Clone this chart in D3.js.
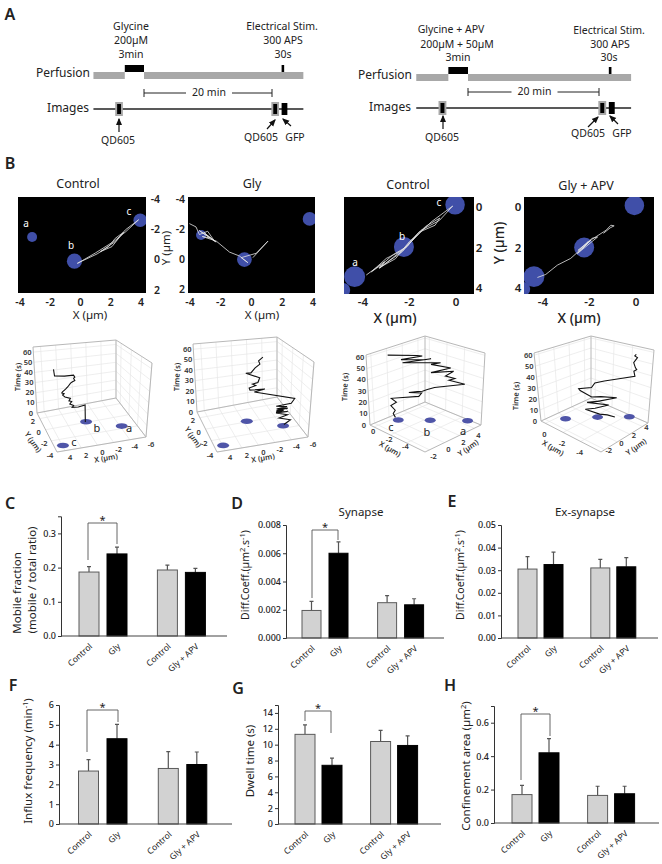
<!DOCTYPE html>
<html>
<head>
<meta charset="utf-8">
<script src="https://cdn.jsdelivr.net/npm/d3@7"></script>
<style>
body { margin:0; background:#fff; }
text { font-family:"Noto Sans", sans-serif; fill:#222; }
</style>
</head>
<body>
<div id="fig"></div>
<script>
// panel A, minutes relative to the end of the drug
const drugStart = -3, drugEnd = 0, runStart = -7.9, runEnd = 24.9
const stimTime = 21.7, qdBefore = -3.9, qdAfter = 20.5, gfpTime = 21.9, gapMinutes = 20

// panel B, image tracks in um
const img1BlobX = [-3.2,-0.4,3.95], img1BlobY = [-1.5,0.1,-2.6], img1BlobR = [0.33,0.5,0.45]
const img2BlobX = [-3.28,-0.46,3.78], img2BlobY = [-1.6,0.04,-2.67], img2BlobR = [0.33,0.48,0.45]
const img3BlobX = [-4.36,-4.85,-2.24,-0.04], img3BlobY = [3.44,4.1,1.97,-0.11], img3BlobR = [0.45,0.3,0.43,0.42]
const img4BlobX = [-4.39,-4.85,-2.23,-0.07], img4BlobY = [3.44,4.05,2,-0.08], img4BlobR = [0.45,0.3,0.43,0.42]

const img1TrackX = [-0.22,1.1,1.86,2.3,2.85,2.3,1.32,2.08,2.96,3.84,3.0,2.2,1.0,-0.2]
const img1TrackY = [0.24,-0.38,-0.86,-1.41,-1.81,-1.19,-0.53,-0.86,-1.96,-2.63,-1.85,-1.2,-0.45,0.25]
const img2TrackX = [-4.04,-3.61,-3.39,-2.85,-2.41,-3.07,-2.3,-3.4,-2.7,-3.2,-2.3,-1.43,-0.78,-0.24,-0.67,0.3,1.07,0.09]
const img2TrackY = [-2.36,-2.14,-1.63,-1.85,-1.19,-1.74,-1.13,-1.9,-1.4,-1.5,-1.2,-0.46,-0.2,0.24,-0.09,-0.38,-1.19,-0.09]
const img3TrackX = [-3.86,-3.07,-3.29,-2.5,-1.93,-1.07,-0.14,-0.71,-1.5,-2.29,-3,-3.64,-3.2,-2.7,-2.1,-1.6,-0.9,-0.7,-1.3,-2,-2.6,-3.3,-2.3,-1.7]
const img3TrackY = [3.36,2.7,3.03,2.3,1.72,0.74,-0.05,0.66,1.15,2.13,2.54,3.2,2.85,2.35,1.95,1.25,0.9,0.55,0.95,1.7,2.55,3.0,2.2,1.4]
const img4TrackX = [-4.24,-3.88,-3.38,-2.81,-1.94,-2.52,-1.65,-1.9,-2.3,-2.05,-2.5,-1.9,-1.29,-1.08,-0.94,-1.11,-1.4]
const img4TrackY = [3.48,3.33,2.87,2.54,1.64,2.3,1.48,1.55,2.05,1.7,2.15,1.6,1.15,0.9,0.93,1.03,1.3]

// panel B, 3D plots: blobs on the floor and path (position along a line, time)
const p1BlobX = [-4.2,-0.4,3.93], p1BlobY = [-1.6,0.1,-3.1]
const p2BlobX = [-4.2,-0.4,3.93], p2BlobY = [-1.6,0.1,-3.1]
const p3BlobX = [-4.85,-2.42,-0.45], p3BlobY = [4.7,2.35,0.2]
const p4BlobX = [-4.3,-2.3,-0.6], p4BlobY = [4.6,2.3,-0.35]

const p1PathS = [-0.3,-0.28,0.6,1.4,1.2,1.7,1.45,1.8,1.6,2.3,2.6,2.4,2.7,2.6,2.2,1.9,1.55,1.3,1,1.15,1,1.15,2.3,3.55,3.6,3.65]
const p1PathT = [0,16,15,15.5,17,19,21,22,24,26,28,29,30,31,33,35,38,39,40,42,43,45,45,46,49,52]
const p2PathS = [-4.3,-5.1,-3.65,-4.7,-3.25,-4.7,-3.25,-4.2,-3.3,-4.7,-3.3,-4.6,-3.25,-5.1,-5.5,-0.53,-1.8,0,0.1,-0.7,-0.3,-0.95,-1.16,0.5,-0.1,-0.6,-1.16,-1.0,-1.5]
const p2PathT = [1,4.4,7.6,9.4,12.6,12.4,13.6,14.2,14.8,15.4,16.2,17,18.7,19.5,23.6,34,35.5,36,38,39.5,41,42,46,51,51,55,58,61,64]
const p3PathS = [-0.04,-0.07,-0.04,-0.1,-0.02,-0.09,0.3,0.34,0.16,0.28,0.35,0.42,0.52,0.94,0.72,0.8,0.67,0.78,0.47,0.74,0.47,0.6,0.08,0.47,0.38,0.06,0.35,0.28,-0.12]
const p3PathT = [2.2,5.5,8.5,12.6,15.7,19,20.9,23.8,24.2,25,25.3,26.8,28.6,31.8,35,36.6,38.5,42.8,41.4,45.6,48.5,50,50.2,53.3,52.5,53,55.8,56.2,57.4]
const p4PathS = [0.77,0.65,0.53,0.31,0.46,0.67,0.34,0.5,0.79,0.55,0.41,0.24,0.22,0.41,0.46,0.6,0.84,1.05,1.03,1.07,1.05,1.02,1.07,1.03,1.05]
const p4PathT = [0.6,2.7,3.6,8.2,8.8,11.2,14.2,14.8,17.3,18.8,18.8,24.8,26.4,27,31,32.4,34,35.5,40,41.5,43,47.6,52,53.5,55]

// panels C-H
const groups = ["Control","Gly","Control","Gly + APV"]
const slots = [0,1,2.8,3.8]
const mobileVal = [0.187,0.24,0.193,0.186], mobileTop = [0.203,0.26,0.207,0.198]
const synapseVal = [0.00195,0.006,0.0025,0.00235], synapseTop = [0.0026,0.0068,0.003,0.00278]
const exsynVal = [0.0305,0.0325,0.031,0.0315], exsynTop = [0.036,0.038,0.0348,0.0356]
const influxVal = [2.67,4.3,2.8,3], influxTop = [3.25,5.02,3.65,3.63]
const dwellVal = [11.3,7.4,10.4,9.9], dwellTop = [12.5,8.3,11.8,11.1]
const confVal = [0.17,0.42,0.165,0.175], confTop = [0.225,0.505,0.22,0.22]

let svg = d3.select("#fig").append("svg").attr("width",662).attr("height",864).style("display","block")

function label(x,y,txt,size,opt)
{
    opt = opt || {}
    let t = svg.append("text")
    .attr("x",x).attr("y",y)
    .attr("dy",".35em")
    .attr("text-anchor",opt.anchor || "middle")
    .style("font-size",size+"px")
    .style("font-weight",opt.weight || 400)
    .text(txt)
    if (opt.fill) t.style("fill",opt.fill)
    if (opt.rot !== undefined) t.attr("transform","rotate("+opt.rot+","+x+","+y+")")
    return t
}

svg.append("defs").append("marker").attr("id","arrow")
.attr("viewBox","0 0 6 6").attr("refX",5).attr("refY",3)
.attr("markerWidth",6).attr("markerHeight",6).attr("orient","auto")
.append("path").attr("d","M0,0.5L6,3L0,5.5Z").attr("fill","#111")

svg.select("defs").append("filter").attr("id","soft")
.append("feGaussianBlur").attr("stdDeviation",0.7)

label(10,14,"A",16,{weight:600})
label(10,163,"B",16,{weight:600})
label(10,503,"C",16,{weight:600})
label(237,503,"D",16,{weight:600})
label(452,501,"E",16,{weight:600})
label(13,685,"F",16,{weight:600})
label(238,688,"G",16,{weight:600})
label(450,685,"H",16,{weight:600})

function schedule(o)
{
    let x = d3.scaleLinear().domain([0,gapMinutes]).range(o.range)
    let rect = (a,b,y,h,c) => svg.append("rect").attr("x",x(a)).attr("width",x(b)-x(a)).attr("y",y).attr("height",h).attr("fill",c)

    rect(runStart,drugStart,o.py+7,7,"#a8a8a8")
    rect(drugEnd,runEnd,o.py+7,7,"#a8a8a8")
    rect(drugStart,drugEnd,o.py,7,"#000")
    rect(stimTime-0.2,stimTime+0.2,o.py,7,"#000")

    svg.append("line").attr("x1",x(runStart)).attr("x2",x(runEnd)).attr("y1",o.iy).attr("y2",o.iy).attr("stroke","#222").attr("stroke-width",1.4)
    let qd = t => {
        rect(t-0.6,t+0.6,o.iy-7,14,"#a8a8a8")
        rect(t-0.3,t+0.3,o.iy-5,10,"#000")
    }
    qd(qdBefore)
    qd(qdAfter)
    rect(gfpTime-0.4,gfpTime+0.5,o.iy-6,12,"#000")

    // 20 min bracket
    let by = o.iy-16
    svg.append("path").attr("fill","none").attr("stroke","#222").attr("stroke-width",1)
    .attr("d","M"+x(0)+","+(by-4)+"v8M"+x(0)+","+by+"H"+(x(10)-22)+"M"+(x(10)+24)+","+by+"H"+x(20)+"M"+x(20)+","+(by-4)+"v8")
    label(x(10)+1,by-1,"20 min",10.5)

    o.drugLines.forEach((d,i) => label(d[0],d[1],d[2],10.5))
    o.stimLines.forEach((d,i) => label(d[0],d[1],d[2],10.5))
    label(o.labelX,o.py+8,"Perfusion",12,{anchor:"end"})
    label(o.labelX-1,o.iy-1,"Images",12,{anchor:"end"})

    o.arrows.forEach(a => svg.append("line").attr("x1",a[0]).attr("y1",a[1]).attr("x2",a[2]).attr("y2",a[3])
      .attr("stroke","#111").attr("stroke-width",1.2).attr("marker-end","url(#arrow)"))
    o.notes.forEach(d => label(d[0],d[1],d[2],10.5))
}

schedule({range:[144,272],py:65,iy:109,labelX:90,
    drugLines:[[131,26,"Glycine"],[131,40,"200µM"],[131,54,"3min"]],
    stimLines:[[282,26,"Electrical Stim."],[283,40,"300 APS"],[283,54,"30s"]],
    arrows:[[119,132,119,119],[267,129,275,120],[291,126,283,119]],
    notes:[[118,140,"QD605"],[261,137,"QD605"],[295,137,"GFP"]]})
schedule({range:[468,599],py:67,iy:108,labelX:412,
    drugLines:[[451,29,"Glycine + APV"],[457,44,"200µM + 50µM"],[458,57,"3min"]],
    stimLines:[[609,30,"Electrical Stim."],[610,44,"300 APS"],[609,57,"30s"]],
    arrows:[[443,129,443,116],[588,127,598,117],[618,124,610,116]],
    notes:[[442,137,"QD605"],[588,133,"QD605"],[622,133,"GFP"]]})

function trackImage(o)
{
    let x = d3.scaleLinear().domain(o.xd).range(o.xr)
    let y = d3.scaleLinear().domain(o.yd).range(o.yr)
    let id = "clip"+o.box[0]
    svg.select("defs").append("clipPath").attr("id",id).append("rect")
    .attr("x",o.box[0]).attr("y",o.box[1]).attr("width",o.box[2]-o.box[0]).attr("height",o.box[3]-o.box[1])
    svg.append("rect").attr("x",o.box[0]).attr("y",o.box[1]).attr("width",o.box[2]-o.box[0]).attr("height",o.box[3]-o.box[1]).attr("fill","#000")

    let g = svg.append("g").attr("clip-path","url(#"+id+")")
    g.append("g").attr("filter","url(#soft)").selectAll("circle")
    .data(o.bx).enter().append("circle")
    .attr("cx",d => x(d)).attr("cy",(d,i) => y(o.by[i]))
    .attr("r",(d,i) => (x(o.br[i])-x(0)))
    .attr("fill","#3f4fa8")

    let line = d3.line().x(d => x(d[0])).y(d => y(d[1]))
    g.append("path").attr("fill","none").attr("stroke","#e4e4e4").attr("stroke-width",0.8)
    .attr("d",line(o.tx.map((d,i) => [d,o.ty[i]])))

    let fs = o.big ? 11.5 : 10.5
    o.xt.forEach(t => label(x(t),302,t,fs,{weight:600}))
    o.yt.forEach(t => label(o.yLabelX,y(t),t,fs,{weight:600,anchor:o.yAnchor}))
    label(o.title[0],o.title[1],o.title[2],12.5)
    label(o.xl[0],o.xl[1],"X (µm)",o.big ? 14 : 11.5,{weight:o.big ? 500 : 400})
    if (o.yl) label(o.yl[0],o.yl[1],"Y (µm)",o.big ? 14 : 11.5,{rot:-90,weight:o.big ? 500 : 400})
    o.letters.forEach(d => label(d[0],d[1],d[2],10,{fill:"#fff"}))
}

trackImage({box:[18,197,146,293],xd:[-4,4],xr:[20,141],yd:[-4,2],yr:[199,290],
    bx:img1BlobX,by:img1BlobY,br:img1BlobR,tx:img1TrackX,ty:img1TrackY,
    xt:[-4,-2,0,2,4],yt:[-4,-2,0,2],yLabelX:160,yAnchor:"end",
    title:[78,184,"Control"],xl:[90,315],letters:[[26,223,"a"],[71,245,"b"],[129,211,"c"]]})
trackImage({box:[188,197,315,293],xd:[-4,4],xr:[190,313],yd:[-4,2],yr:[199,289],
    bx:img2BlobX,by:img2BlobY,br:img2BlobR,tx:img2TrackX,ty:img2TrackY,
    xt:[-4,-2,0,2,4],yt:[-4,-2,0,2],yLabelX:185,yAnchor:"end",
    title:[252,184,"Gly"],xl:[262,315],yl:[166,248],letters:[]})
trackImage({box:[344,197,474,294],xd:[-4,0],xr:[363,456],yd:[0,4],yr:[207,288],big:true,
    bx:img3BlobX,by:img3BlobY,br:img3BlobR,tx:img3TrackX,ty:img3TrackY,
    xt:[-4,-2,0],yt:[0,2,4],yLabelX:479,yAnchor:"middle",
    title:[408,185,"Control"],xl:[395,318],letters:[[355,262,"a"],[402,236,"b"],[439,202,"c"]]})
trackImage({box:[524,197,654,294],xd:[-4,0],xr:[543,636],yd:[0,4],yr:[207,288],big:true,
    bx:img4BlobX,by:img4BlobY,br:img4BlobR,tx:img4TrackX,ty:img4TrackY,
    xt:[-4,-2,0],yt:[0,2,4],yLabelX:518,yAnchor:"middle",
    title:[586,186,"Gly + APV"],xl:[579,318],yl:[499,243],letters:[]})

function plot3d(o)
{
    let a = d3.scaleLinear().domain(o.xd).range([0,1])
    let b = d3.scaleLinear().domain(o.yd).range([0,1])
    let c = d3.scaleLinear().domain([0,o.tmax]).range([0,1])
    // trilinear blend between the eight box corners
    function proj(x,y,t)
    {
        let u = a(x), v = b(y), w = c(t)
        let mix = (p,q,s) => [p[0]+(q[0]-p[0])*s, p[1]+(q[1]-p[1])*s]
        let low = mix(mix(o.k.a0b0[0],o.k.a1b0[0],u),mix(o.k.a0b1[0],o.k.a1b1[0],u),v)
        let high = mix(mix(o.k.a0b0[1],o.k.a1b0[1],u),mix(o.k.a0b1[1],o.k.a1b1[1],u),v)
        return mix(low,high,w)
    }
    let line = d3.line()
    let g = svg.append("g")
    let seg = (pts,col,w) => g.append("path").attr("fill","none").attr("stroke",col).attr("stroke-width",w).attr("d",line(pts))
    let grid = "#e6e6e6", frame = "#b8b8b8"
    let [x0,x1] = o.xd, [y0,y1] = o.yd, tm = o.tmax

    o.xt.forEach(v => { seg([proj(v,y0,0),proj(v,y1,0),proj(v,y1,tm)],grid,0.7) })
    o.yt.forEach(v => { seg([proj(o.wallX,v,tm),proj(o.wallX,v,0),proj(o.wallX === x0 ? x1 : x0,v,0)],grid,0.7) })
    o.tt.forEach(v => { seg([proj(o.wallX === x0 ? x1 : x0,y1,v),proj(o.wallX,y1,v),proj(o.wallX,y0,v)],grid,0.7) })

    let otherX = o.wallX === x0 ? x1 : x0
    seg([proj(otherX,y0,0),proj(o.wallX,y0,0),proj(o.wallX,y1,0),proj(otherX,y1,0),proj(otherX,y0,0)],frame,1)
    seg([proj(otherX,y1,0),proj(otherX,y1,tm),proj(o.wallX,y1,tm),proj(o.wallX,y0,tm),proj(o.wallX,y0,0)],frame,1)
    seg([proj(o.wallX,y1,0),proj(o.wallX,y1,tm)],frame,1)

    o.bx.forEach((d,i) => {
        let p = proj(d,o.by[i],0)
        g.append("ellipse").attr("cx",p[0]).attr("cy",p[1]).attr("rx",o.brx).attr("ry",2.8).attr("fill","#4f55a8")
    })

    let pts = o.ps.map((s,i) => proj(o.from[0]+s*(o.to[0]-o.from[0]),o.from[1]+s*(o.to[1]-o.from[1]),o.pt[i]))
    seg(pts,"#111",1.1)

    let fs = 7.5
    o.xt.forEach(v => { let p = proj(v,y0,0); label(p[0]+o.xo[0],p[1]+o.xo[1],v,fs,{weight:600,fill:"#333"}) })
    o.yt.forEach(v => { let p = proj(o.yEdge,v,0); label(p[0]+o.yo[0],p[1]+o.yo[1],v,fs,{weight:600,fill:"#333"}) })
    o.tt.forEach(v => { let p = proj(o.tEdge[0],o.tEdge[1],v); label(p[0]+o.to_[0],p[1]+o.to_[1],v,fs,{weight:600,fill:"#333"}) })
    o.titles.forEach(d => label(d[0],d[1],d[2],7.5,{weight:600,fill:"#333",rot:d[3]}))
    o.letters.forEach(d => label(d[0],d[1],d[2],11))
}

let timeTicks = [0,10,20,30,40,50,60]
plot3d({xd:[5,-6],yd:[-4,3],tmax:65,wallX:-6,yEdge:5,tEdge:[5,3],
    k:{a0b0:[[57,452],[55,368]],a1b0:[[146,437],[152,363]],a0b1:[[37,413],[33,347]],a1b1:[[116,398],[116,340]]},
    xt:[4,2,0,-2,-4,-6],yt:[2,0,-2,-4],tt:timeTicks,xo:[5,7],yo:[-7,3],to_:[-6,0],
    bx:p1BlobX,by:p1BlobY,brx:6,ps:p1PathS,pt:p1PathT,from:[0,0.1],to:[1,0.1],
    titles:[[18,377,"Time (s)",-88],[106,458,"X (µm)",-10],[33,442,"Y (µm)",55]],
    letters:[[97,428,"b"],[129,428,"a"],[74,442,"c"]]})
plot3d({xd:[5,-6],yd:[-4,3],tmax:65,wallX:-6,yEdge:5,tEdge:[5,3],
    k:{a0b0:[[217,452],[215,368]],a1b0:[[308,437],[314,362]],a0b1:[[197,412],[193,344]],a1b1:[[277,397],[277,337]]},
    xt:[4,2,0,-2,-4,-6],yt:[2,0,-2,-4],tt:timeTicks,xo:[5,7],yo:[-7,3],to_:[-6,0],
    bx:p2BlobX,by:p2BlobY,brx:6,ps:p2PathS,pt:p2PathT,from:[0,-1.6],to:[1,-1.6],
    titles:[[177,377,"Time (s)",-88],[263,458,"X (µm)",-10],[193,437,"Y (µm)",55]],
    letters:[]})
plot3d({xd:[0.5,-6.3],yd:[-2.6,4.9],tmax:62,wallX:0.5,yEdge:-6.3,tEdge:[0.5,-2.6],
    k:{a0b0:[[370,425],[366,355]],a1b0:[[425,452],[425,363]],a0b1:[[425,402],[425,336]],a1b1:[[481,425],[485,353]]},
    xt:[0,-2,-4],yt:[-2,0,2,4],tt:timeTicks,xo:[-1,4],yo:[4,7],to_:[-6,0],
    bx:p3BlobX,by:p3BlobY,brx:5.5,ps:p3PathS,pt:p3PathT,from:[-0.45,0.2],to:[-4.85,4.7],
    titles:[[345,387,"Time (s)",-88],[390,449,"X (µm)",30],[468,448,"Y (µm)",-35]],
    letters:[[391,427,"c"],[427,432,"b"],[463,431,"a"]]})
plot3d({xd:[0.5,-6.3],yd:[-2.6,4.9],tmax:62,wallX:0.5,yEdge:-6.3,tEdge:[0.5,-2.6],
    k:{a0b0:[[541,421],[534,353]],a1b0:[[601,452],[598,360]],a0b1:[[591,398],[591,336]],a1b1:[[648,423],[654,350]]},
    xt:[0,-2,-4],yt:[-2,0,2,4],tt:timeTicks,xo:[-1,11],yo:[4,1],to_:[-6,0],
    bx:p4BlobX,by:p4BlobY,brx:5.5,ps:p4PathS,pt:p4PathT,from:[-0.6,-0.35],to:[-4.3,4.6],
    titles:[[516,396,"Time (s)",-88],[553,448,"X (µm)",30],[636,447,"Y (µm)",-35]],
    letters:[]})

function barPanel(o)
{
    let x = d3.scaleLinear().domain([0,1]).range(o.cx)
    let y = d3.scaleLinear().domain(o.yd).range(o.yr)
    let g = svg.append("g")

    // error bars first, the bar edge covers their foot
    o.val.forEach((v,i) => {
        let c = x(slots[i])
        g.append("path").attr("fill","none").attr("stroke","#555").attr("stroke-width",1.2)
        .attr("d","M"+c+","+y(v)+"V"+y(o.top[i])+"M"+(c-2)+","+y(o.top[i])+"H"+(c+2))
    })
    g.selectAll("rect").data(o.val).enter().append("rect")
    .attr("x",(d,i) => x(slots[i])-o.bw/2)
    .attr("width",o.bw)
    .attr("y",d => y(d))
    .attr("height",d => y(0)-y(d))
    .attr("fill",(d,i) => i%2 ? "#000" : "#d2d2d2")
    .attr("stroke",(d,i) => i%2 ? "#000" : "#5a5a5a")
    .attr("stroke-width",1)

    let axis = d3.axisLeft(y).tickValues(o.ticks).tickSize(3).tickFormat(d3.format(o.fmt))
    let ag = svg.append("g").attr("transform","translate("+o.axisX+",0)").call(axis)
    ag.selectAll("text").style("font-size","9px").style("font-weight",500).attr("x",-5)
    ag.selectAll("path,line").attr("stroke","#333")
    svg.append("line").attr("x1",o.axisX).attr("x2",o.endX).attr("y1",y(0)).attr("y2",y(0)).attr("stroke","#444").attr("stroke-width",1.2)

    groups.forEach((d,i) => {
        label(x(slots[i])+2,y(0)+9,d,8.5,{anchor:"end",rot:-42})
    })

    if (o.bracket) {
        let b = o.bracket
        svg.append("path").attr("fill","none").attr("stroke","#555").attr("stroke-width",0.9)
        .attr("d","M"+b[0]+","+b[1]+"V"+b[2]+"H"+b[3]+"V"+b[4])
        label((b[0]+b[3])/2,b[2]-3,"*",11)
    }
}

barPanel({cx:[89,117],bw:20,yd:[0,0.35],yr:[636,516.3],val:mobileVal,top:mobileTop,ticks:[0,0.1,0.2,0.3],fmt:".1f",axisX:61,endX:227,bracket:[88,560,523,117,544]})
barPanel({cx:[311.5,338.5],bw:19,yd:[0,0.008],yr:[638,525],val:synapseVal,top:synapseTop,ticks:[0,0.002,0.004,0.006,0.008],fmt:".3f",axisX:286,endX:444,bracket:[312,598,530,338,540]})
barPanel({cx:[527.5,553.5],bw:19,yd:[0,0.05],yr:[638,525],val:exsynVal,top:exsynTop,ticks:[0,0.01,0.02,0.03,0.04,0.05],fmt:".2f",axisX:501,endX:658})
barPanel({cx:[88.5,117],bw:20,yd:[0,6],yr:[824,705],val:influxVal,top:influxTop,ticks:[0,1,2,3,4,5,6],fmt:"d",axisX:59,endX:232,bracket:[87,752,710,118,722]})
barPanel({cx:[305,332],bw:20,yd:[0,15],yr:[824,705],val:dwellVal,top:dwellTop,ticks:[0,2,4,6,8,10,12,14],fmt:"d",axisX:278,endX:441,bracket:[305,721,711,331,733]})
barPanel({cx:[522,549],bw:20,yd:[0,0.7],yr:[823,706],val:confVal,top:confTop,ticks:[0,0.2,0.4,0.6],fmt:".1f",axisX:494,endX:659,bracket:[521,780,714,550,736]})

label(361,512,"Synapse",11.5)
label(585,512,"Ex-synapse",11.5)

function rotLabel(x,y,parts,size)
{
    let t = svg.append("text").attr("transform","translate("+x+","+y+") rotate(-90)")
    .attr("text-anchor","middle").attr("dy",".35em").style("font-size",(size || 11.5)+"px")
    parts.forEach(p => {
        let s = t.append("tspan").text(p[0])
        if (p[1]) s.attr("dy",p[1]).style("font-size","7.5px")
        if (p[2]) s.attr("dy",p[2])
    })
}
rotLabel(17,593,[["Mobile fraction"]])
rotLabel(32,580,[["(mobile / total ratio)"]])
rotLabel(245,575,[["Diff.Coeff.(µm"],["2","-4"],[".s","", "4"],["-1","-4"],[")","", "4"]],10.5)
rotLabel(460,575,[["Diff.Coeff.(µm"],["2","-4"],[".s","", "4"],["-1","-4"],[")","", "4"]],10.5)
rotLabel(28,761,[["Influx frequency (min"],["-1","-4"],[")","", "4"]])
rotLabel(250,761,[["Dwell time (s)"]])
rotLabel(466,766,[["Confinement area (µm"],["2","-4"],[")","", "4"]])
</script>
</body>
</html>
